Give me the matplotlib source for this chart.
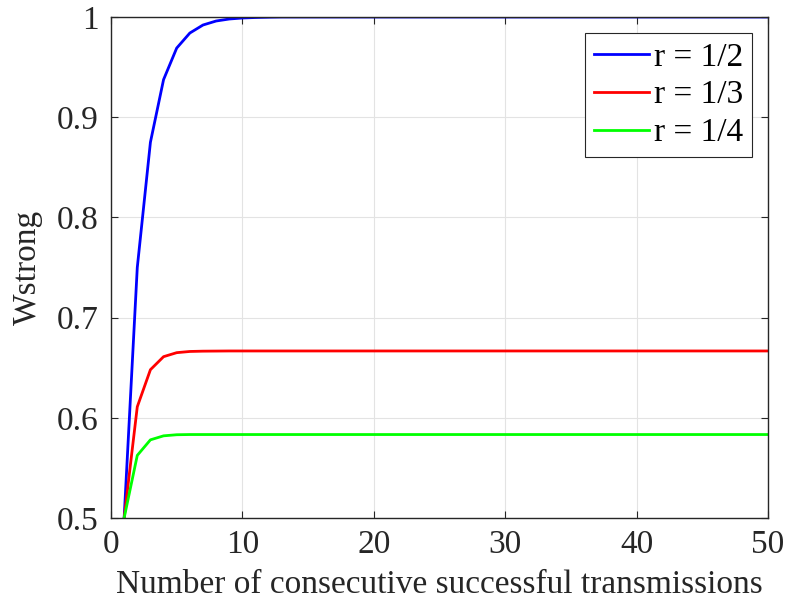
import matplotlib
matplotlib.use("Agg")
import matplotlib.pyplot as plt

x = list(range(1, 51))
w_half = [0.5, 0.75, 0.875, 0.9375, 0.969, 0.984, 0.992, 0.996, 0.998, 0.999,
          0.9995, 0.9998] + [1.0] * 38
w_third = [0.5, 0.611, 0.648, 0.661, 0.665, 0.6662, 0.6665, 0.6666] + [0.6667] * 42
w_quarter = [0.5, 0.5625, 0.578, 0.582, 0.5831, 0.5833] + [0.5833] * 44
labels = ["r = 1/2", "r = 1/3", "r = 1/4"]
xticks = [0, 10, 20, 30, 40, 50]
yticks = [0.5, 0.6, 0.7, 0.8, 0.9, 1.0]
yticklabels = ["0.5", "0.6", "0.7", "0.8", "0.9", "1"]

plt.rcParams['font.family'] = ['Liberation Serif', 'DejaVu Serif']

fig = plt.figure(figsize=(7.87, 5.99), dpi=100)
ax = fig.add_axes([111/787, 1 - 518/599, (768-111)/787, (518-17)/599])

ax.plot(x, w_half, color=(0, 0, 1), lw=2, label=labels[0])
ax.plot(x, w_third, color=(1, 0, 0), lw=2, label=labels[1])
ax.plot(x, w_quarter, color=(0, 1, 0), lw=2, label=labels[2])

ax.set_xlim(0, 50)
ax.set_ylim(0.5, 1.0)
ax.set_xticks(xticks)
ax.set_yticks(yticks)
ax.set_yticklabels(yticklabels)
ax.grid(True, color='#e3e3e3', lw=0.8)
ax.set_axisbelow(True)
ax.tick_params(direction='in', top=True, right=True, labelsize=24, length=5,
               color='#262626', labelcolor='#262626')
ax.tick_params(axis='x', pad=8)
ax.tick_params(axis='y', pad=9)
for s in ax.spines.values():
    s.set_color('#262626')
    s.set_linewidth(1.0)

ax.set_xlabel("Number of consecutive successful transmissions", fontsize=24,
              color='#262626', labelpad=7)
ax.set_ylabel("Wstrong", fontsize=24, color='#262626', labelpad=10)

leg = ax.legend(loc='upper right', fontsize=24, frameon=True, fancybox=False,
                edgecolor='#262626', framealpha=1, handlelength=1.65,
                handletextpad=0.15, borderpad=0.27, labelspacing=0.22,
                borderaxespad=0.48)
leg.get_frame().set_linewidth(0.8)

fig.savefig("out.png", dpi=100)
